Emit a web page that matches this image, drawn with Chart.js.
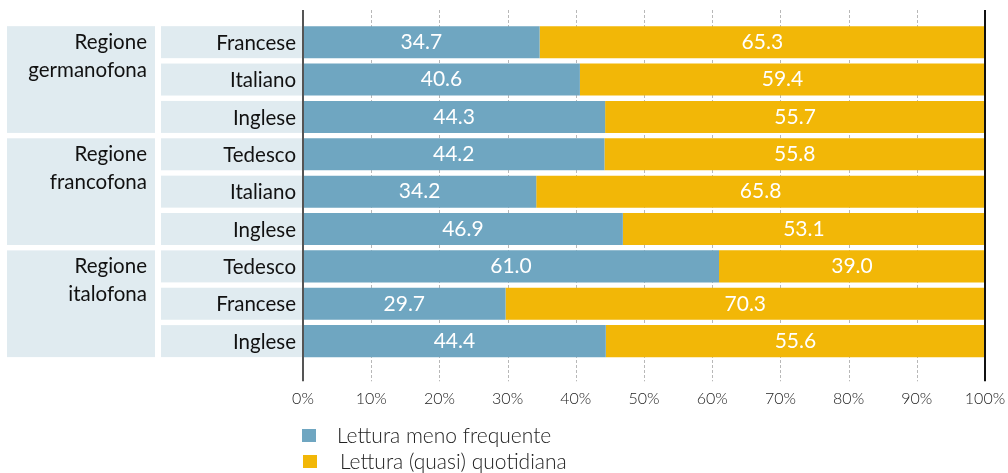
<!DOCTYPE html>
<html>
<head>
<meta charset="utf-8">
<script src="https://cdn.jsdelivr.net/npm/chart.js@4/dist/chart.umd.min.js"></script>
<style>
html,body{margin:0;padding:0;background:#fff;}
#wrap{position:relative;width:1008px;height:473px;}
</style>
</head>
<body>
<div id="wrap"><canvas id="c" width="1008" height="473"></canvas></div>
<script>
const groups = ["Regione\ngermanofona", "Regione\nfrancofona", "Regione\nitalofona"];
const groupSizes = [3, 3, 3];
const categories = ["Francese", "Italiano", "Inglese", "Tedesco", "Italiano", "Inglese", "Tedesco", "Francese", "Inglese"];
const lessFrequent = [34.7, 40.6, 44.3, 44.2, 34.2, 46.9, 61.0, 29.7, 44.4];
const daily = [65.3, 59.4, 55.7, 55.8, 65.8, 53.1, 39.0, 70.3, 55.6];
const seriesNames = ["Lettura meno frequente", "Lettura (quasi) quotidiana"];
const xTicks = [0, 10, 20, 30, 40, 50, 60, 70, 80, 90, 100];

const BLUE = "#6fa6c1", YELLOW = "#f2b707", PANEL = "#e0ebf0";
const FONT = "Lato, 'Open Sans', sans-serif";

const decor = {
  id: "decor",
  beforeDatasetsDraw(chart) {
    const ctx = chart.ctx, x = chart.scales.x, y = chart.scales.y, ca = chart.chartArea;
    const top = ca.top - 13.5, bot = ca.bottom + 21.5;
    const half = 16;
    ctx.save();
    // panels
    ctx.fillStyle = PANEL;
    categories.forEach((c, i) => {
      const py = y.getPixelForValue(i);
      ctx.fillRect(161, py - half, x.getPixelForValue(0) - 161, half * 2);
    });
    let start = 0;
    groupSizes.forEach((n, g) => {
      const y0 = y.getPixelForValue(start) - half;
      const y1 = y.getPixelForValue(start + n - 1) + half;
      ctx.fillRect(7, y0, 148, y1 - y0);
      ctx.fillStyle = "#111";
      ctx.font = "20.5px " + FONT;
      ctx.textAlign = "right";
      ctx.textBaseline = "middle";
      groups[g].split("\n").forEach((line, k) => {
        ctx.fillText(line, 147, y.getPixelForValue(start) + k * 28);
      });
      ctx.fillStyle = PANEL;
      start += n;
    });
    // row labels
    ctx.fillStyle = "#111";
    ctx.font = "20.5px " + FONT;
    ctx.textAlign = "right";
    ctx.textBaseline = "middle";
    categories.forEach((c, i) => ctx.fillText(c, 296, y.getPixelForValue(i) + 1));
    // grid lines
    ctx.strokeStyle = "#b8b8b8";
    ctx.lineWidth = 1;
    ctx.setLineDash([3, 2]);
    xTicks.slice(1, -1).forEach(v => {
      const px = Math.round(x.getPixelForValue(v)) + 0.5;
      ctx.beginPath(); ctx.moveTo(px, top); ctx.lineTo(px, bot); ctx.stroke();
    });
    ctx.setLineDash([]);
    ctx.restore();
  },
  afterDatasetsDraw(chart) {
    const ctx = chart.ctx, x = chart.scales.x, ca = chart.chartArea;
    const top = ca.top - 13.5, bot = ca.bottom + 21.5;
    ctx.save();
    // value labels
    ctx.fillStyle = "#fff";
    ctx.font = "21px " + FONT;
    ctx.textAlign = "center";
    ctx.textBaseline = "middle";
    chart.data.datasets.forEach((ds, di) => {
      chart.getDatasetMeta(di).data.forEach((el, i) => {
        const cx = (el.x + el.base) / 2;
        ctx.fillText(ds.data[i].toFixed(1), cx, el.y);
      });
    });
    // axis lines
    ctx.strokeStyle = "#555";
    ctx.lineWidth = 2;
    let px = x.getPixelForValue(0);
    ctx.beginPath(); ctx.moveTo(px, top); ctx.lineTo(px, bot); ctx.stroke();
    ctx.strokeStyle = "#111";
    px = x.getPixelForValue(100);
    ctx.beginPath(); ctx.moveTo(px, top); ctx.lineTo(px, bot); ctx.stroke();
    // legend
    ctx.font = "300 21px " + FONT;
    ctx.textAlign = "left";
    ctx.fillStyle = BLUE;
    ctx.fillRect(302, 429, 14, 13);
    ctx.fillStyle = YELLOW;
    ctx.fillRect(303, 455, 14, 13);
    ctx.fillStyle = "#222";
    ctx.fillText(seriesNames[0], 337, 436);
    ctx.fillText(seriesNames[1], 340, 462);
    ctx.restore();
  }
};

new Chart(document.getElementById("c"), {
  type: "bar",
  data: {
    labels: categories,
    datasets: [
      { label: seriesNames[0], data: lessFrequent, backgroundColor: BLUE },
      { label: seriesNames[1], data: daily, backgroundColor: YELLOW }
    ]
  },
  options: {
    indexAxis: "y",
    responsive: false,
    animation: false,
    events: [],
    layout: { padding: { left: 303, right: 23, top: 23.5, bottom: 36 } },
    datasets: { bar: { barPercentage: 0.857, categoryPercentage: 1 } },
    plugins: { legend: { display: false }, tooltip: { enabled: false } },
    scales: {
      x: {
        stacked: true, min: 0, max: 100,
        grid: { display: false, drawTicks: false },
        border: { display: false },
        afterBuildTicks: s => { s.ticks = xTicks.map(v => ({ value: v })); },
        afterFit: s => { s.paddingLeft = 0; s.paddingRight = 0; },
        ticks: {
          padding: 29, color: "#222",
          font: { family: FONT, size: 16, weight: 300 },
          callback: v => v + "%"
        }
      },
      y: { stacked: true, display: false }
    }
  },
  plugins: [decor]
});
</script>
</body>
</html>
